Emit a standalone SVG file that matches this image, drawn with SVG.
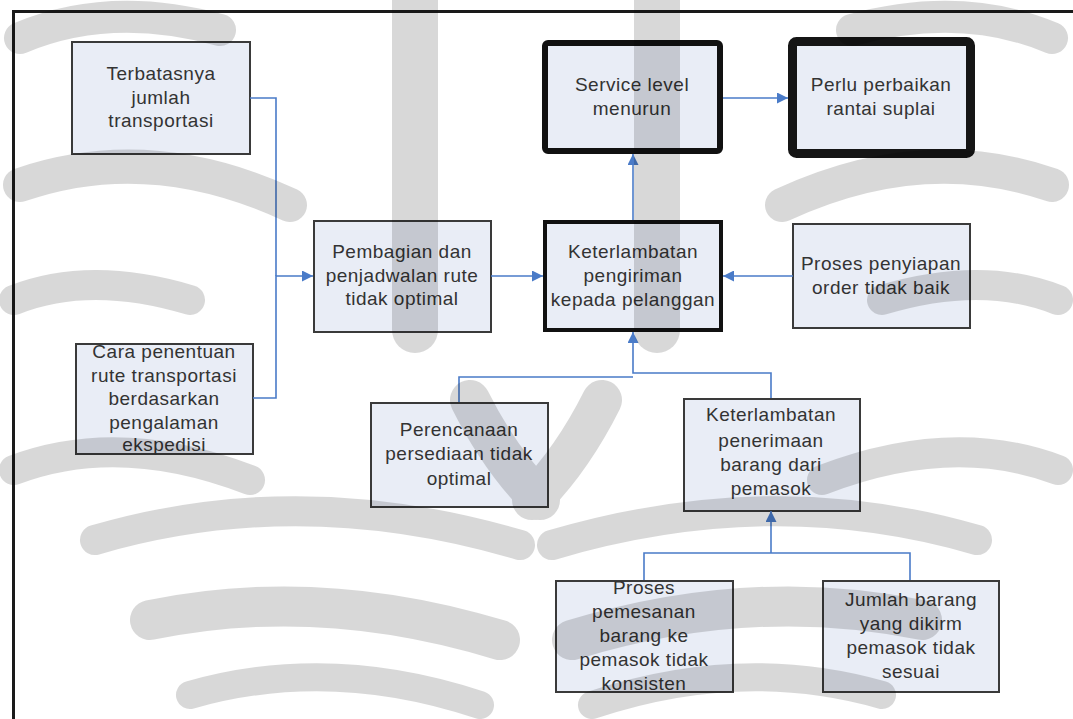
<svg xmlns="http://www.w3.org/2000/svg" width="1073" height="719" viewBox="0 0 1073 719">
  <style>
    .box { fill: #e9edf6; stroke: #3a3a3a; stroke-width: 2; }
    .bold6 { fill: #e9edf6; stroke: #111; stroke-width: 6; }
    .bold9 { fill: #e9edf6; stroke: #151515; stroke-width: 9; }
    .bold4 { fill: #e9edf6; stroke: #111; stroke-width: 4; }
    .lbl { font-family: "Liberation Sans", Arial, sans-serif; font-size: 19px; letter-spacing: 0.5px; fill: #333; text-anchor: middle; }
    .link { fill: none; stroke: #4a7bc8; stroke-width: 1.6; }
    .wm path { fill: none; stroke: #000; stroke-linecap: round; }
  </style>
  <defs>
    <marker id="arr" viewBox="0 0 10 10" refX="10" refY="5" markerWidth="11" markerHeight="11" markerUnits="userSpaceOnUse" orient="auto">
      <path d="M0,0 L10,5 L0,10 z" fill="#4a7bc8"/>
    </marker>
  </defs>

  <rect x="0" y="0" width="1073" height="719" fill="#fff"/>

  <!-- outer frame -->
  <path d="M13.5,719 L13.5,11.5 L1073,11.5" fill="none" stroke="#1a1a1a" stroke-width="3"/>

  <!-- nodes -->
  <g id="n-terbatas">
    <rect class="box" x="72" y="42" width="178" height="112"/>
    <text class="lbl"><tspan x="161" y="80">Terbatasnya</tspan><tspan x="161" y="104">jumlah</tspan><tspan x="161" y="127">transportasi</tspan></text>
  </g>
  <g id="n-service">
    <rect class="bold6" x="545" y="43" width="175" height="108" rx="3"/>
    <text class="lbl"><tspan x="632" y="91">Service level</tspan><tspan x="632" y="115">menurun</tspan></text>
  </g>
  <g id="n-perlu">
    <rect class="bold9" x="792.5" y="41.5" width="178" height="112" rx="4"/>
    <text class="lbl"><tspan x="881" y="91">Perlu perbaikan</tspan><tspan x="881" y="115">rantai suplai</tspan></text>
  </g>
  <g id="n-pembagian">
    <rect class="box" x="314" y="221" width="177" height="111"/>
    <text class="lbl"><tspan x="402" y="258">Pembagian dan</tspan><tspan x="402" y="282">penjadwalan rute</tspan><tspan x="402" y="305">tidak optimal</tspan></text>
  </g>
  <g id="n-keterlambatan-kirim">
    <rect class="bold4" x="545" y="222" width="176" height="108"/>
    <text class="lbl"><tspan x="633" y="258">Keterlambatan</tspan><tspan x="633" y="282">pengiriman</tspan><tspan x="633" y="306">kepada pelanggan</tspan></text>
  </g>
  <g id="n-penyiapan">
    <rect class="box" x="793" y="224" width="177" height="104"/>
    <text class="lbl"><tspan x="881" y="270">Proses penyiapan</tspan><tspan x="881" y="294">order tidak baik</tspan></text>
  </g>
  <g id="n-cara">
    <rect class="box" x="76" y="344" width="177" height="110"/>
    <text class="lbl"><tspan x="164" y="358">Cara penentuan</tspan><tspan x="164" y="382">rute transportasi</tspan><tspan x="164" y="405">berdasarkan</tspan><tspan x="164" y="429">pengalaman</tspan><tspan x="164" y="451">ekspedisi</tspan></text>
  </g>
  <g id="n-perencanaan">
    <rect class="box" x="371" y="403" width="177" height="104"/>
    <text class="lbl"><tspan x="459" y="436">Perencanaan</tspan><tspan x="459" y="460">persediaan tidak</tspan><tspan x="459" y="485">optimal</tspan></text>
  </g>
  <g id="n-keterlambatan-terima">
    <rect class="box" x="684" y="399" width="176" height="112"/>
    <text class="lbl"><tspan x="771" y="421">Keterlambatan</tspan><tspan x="771" y="447">penerimaan</tspan><tspan x="771" y="471">barang dari</tspan><tspan x="771" y="495">pemasok</tspan></text>
  </g>
  <g id="n-pemesanan">
    <rect class="box" x="556" y="581" width="177" height="111"/>
    <text class="lbl"><tspan x="644" y="594">Proses</tspan><tspan x="644" y="618">pemesanan</tspan><tspan x="644" y="642">barang ke</tspan><tspan x="644" y="666">pemasok tidak</tspan><tspan x="644" y="690">konsisten</tspan></text>
  </g>
  <g id="n-jumlah">
    <rect class="box" x="823" y="581" width="176" height="111"/>
    <text class="lbl"><tspan x="911" y="606">Jumlah barang</tspan><tspan x="911" y="630">yang dikirm</tspan><tspan x="911" y="654">pemasok tidak</tspan><tspan x="911" y="678">sesuai</tspan></text>
  </g>

  <!-- connectors -->
  <g id="connectors">
    <path class="link" d="M250,98 H276 V276"/>
    <path class="link" d="M253,398 H276 V276 H313" marker-end="url(#arr)"/>
    <path class="link" d="M491,276 H543" marker-end="url(#arr)"/>
    <path class="link" d="M793,276 H723" marker-end="url(#arr)"/>
    <path class="link" d="M633,220 V154" marker-end="url(#arr)"/>
    <path class="link" d="M723,98 H788" marker-end="url(#arr)"/>
    <path class="link" d="M459,402 V377 H633"/>
    <path class="link" d="M771,398 V373 H633 V332" marker-end="url(#arr)"/>
    <path class="link" d="M644,580 V553 H910 V580"/>
    <path class="link" d="M771,553 V511" marker-end="url(#arr)"/>
  </g>

  <!-- background emblem tint, laid over the drawing -->
  <g class="wm" opacity="0.15">
    <g id="wm-half">
      <path d="M20,38 Q110,0 220,30" stroke-width="32"/>
      <path d="M20,185 Q150,140 290,205" stroke-width="34"/>
      <path d="M14,300 Q90,270 190,300" stroke-width="30"/>
      <path d="M14,470 Q120,430 250,480" stroke-width="30"/>
      <path d="M95,540 Q300,480 520,545" stroke-width="30"/>
      <path d="M150,620 Q320,585 500,640" stroke-width="40"/>
      <path d="M190,695 Q330,655 480,705" stroke-width="28"/>
      <path d="M415,0 V330" stroke-width="46"/>
      <path d="M470,400 Q500,460 540,500" stroke-width="40"/>
    </g>
    <use href="#wm-half" transform="translate(1072,0) scale(-1,1)"/>
  </g>
</svg>
